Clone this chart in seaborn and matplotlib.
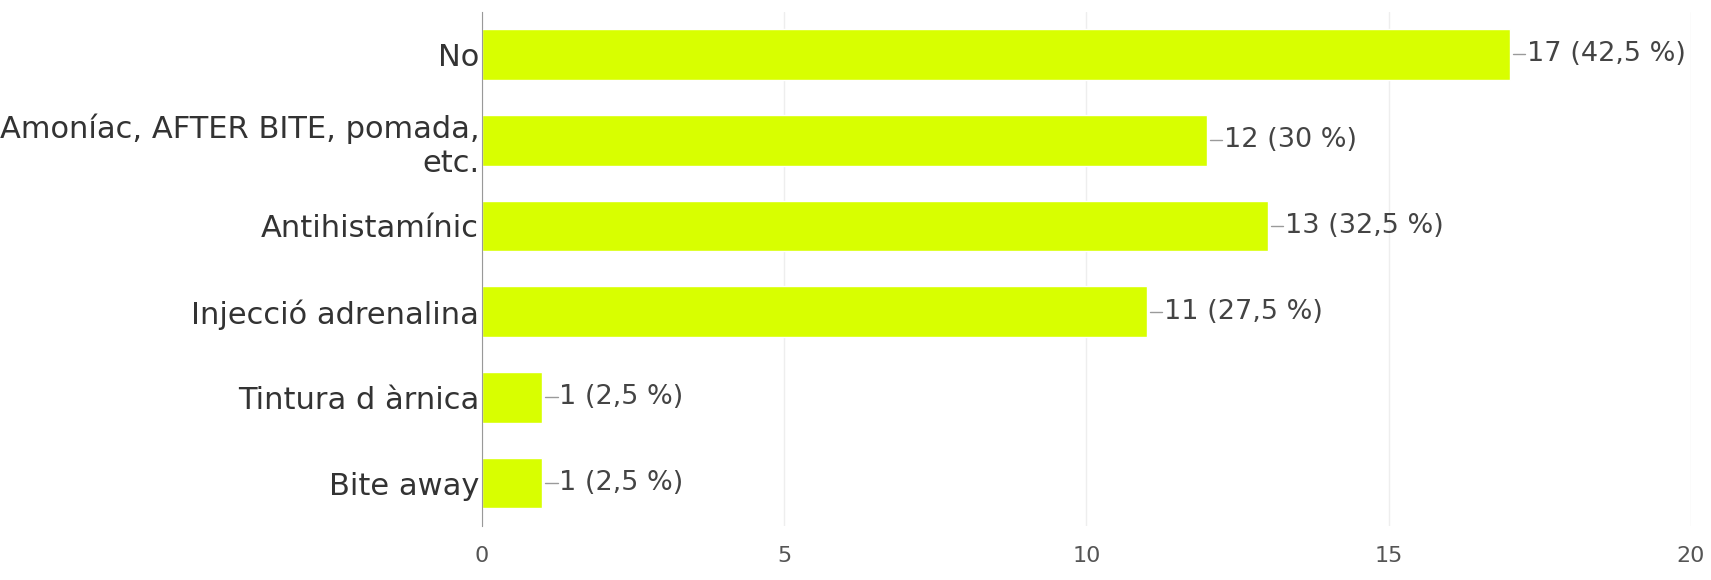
import matplotlib
matplotlib.use("Agg")
import matplotlib.pyplot as plt
import seaborn as sns
import pandas as pd

# data
categories = ["No", "Amoníac, AFTER BITE, pomada,\netc.", "Antihistamínic",
              "Injecció adrenalina", "Tintura d àrnica", "Bite away"]
counts = [17, 12, 13, 11, 1, 1]
labels = ["17 (42,5 %)", "12 (30 %)", "13 (32,5 %)", "11 (27,5 %)",
          "1 (2,5 %)", "1 (2,5 %)"]
x_ticks = [0, 5, 10, 15, 20]

df = pd.DataFrame({"cat": categories, "n": counts})

sns.set_style("white")
plt.rcParams["font.family"] = ["DejaVu Sans"]

fig = plt.figure(figsize=(17.11, 5.8), dpi=100)
ax = fig.add_axes([0.2817, 0.093, 0.7066, 0.887])

sns.barplot(data=df, x="n", y="cat", orient="h", color="#d8ff00",
            saturation=1, width=0.59, ax=ax)

# small leader line + value label next to each bar
for i, (v, lab) in enumerate(zip(counts, labels)):
    ax.plot([v + 0.05, v + 0.25], [i, i], color="#9a9a9a", lw=1)
    ax.text(v + 0.28, i, lab, va="center", ha="left", fontsize=19.5, color="#444444")

ax.set_xlim(0, 20)
ax.set_ylim(len(categories) - 0.5, -0.5)
ax.set_xticks(x_ticks)
ax.xaxis.grid(True, color="#eeeeee", lw=1)
ax.set_axisbelow(True)
ax.set_xlabel("")
ax.set_ylabel("")
ax.tick_params(axis="x", labelsize=16, labelcolor="#555555", length=0, pad=14)
ax.tick_params(axis="y", labelsize=22, labelcolor="#333333", length=0, pad=2)
for s in ["top", "right", "bottom"]:
    ax.spines[s].set_visible(False)
ax.spines["left"].set_color("#999999")

fig.savefig("out.png", dpi=100)
